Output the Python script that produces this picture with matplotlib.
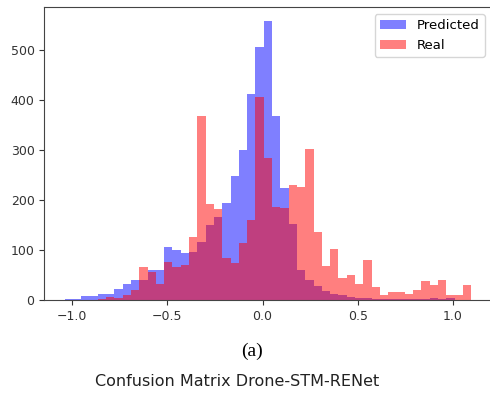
"""
Overlapping histograms of predicted vs real values (Drone-STM-RENet).
Writes out.png (490x394).
"""

import numpy as np
import matplotlib
matplotlib.use("Agg")
import matplotlib.pyplot as plt

# BINS  (49 equal bins, shared by both series)
BIN_LO = -1.04
BIN_HI = 1.096
N_BINS = 49

# COUNTS PER BIN
predicted_counts = [
    3, 3, 9, 9, 12, 12, 23, 32, 41, 41,
    60, 60, 106, 101, 95, 97, 116, 150, 167, 195,
    248, 300, 412, 506, 558, 369, 224, 152, 60, 40,
    29, 18, 13, 10, 7, 5, 5, 3, 2, 2,
    2, 2, 2, 2, 4, 2, 4, 1, 0,
]
real_counts = [
    0, 0, 0, 1, 3, 6, 5, 10, 20, 66,
    57, 33, 77, 67, 71, 127, 369, 192, 183, 85,
    74, 114, 160, 407, 285, 187, 185, 231, 227, 302,
    136, 69, 102, 45, 50, 33, 80, 26, 10, 17,
    17, 12, 20, 39, 31, 41, 10, 10, 31,
]
labels = ["Predicted", "Real"]

FIG_W, FIG_H, DPI = 4.9, 3.94, 100


def main():
    edges = np.linspace(BIN_LO, BIN_HI, N_BINS + 1)
    centers = (edges[:-1] + edges[1:]) / 2

    fig = plt.figure(figsize=(FIG_W, FIG_H), dpi=DPI)
    # axes runs a little past the right edge (reference is cropped there)
    ax = fig.add_axes([44.3 / 490, 1 - 300 / 394, (491.5 - 44.3) / 490, (300 - 7.3) / 394])

    ax.hist(centers, bins=edges, weights=predicted_counts, color="blue", alpha=0.5, label=labels[0])
    ax.hist(centers, bins=edges, weights=real_counts, color="red", alpha=0.5, label=labels[1])

    ax.set_xticks([-1.0, -0.5, 0.0, 0.5, 1.0])
    ax.set_yticks([0, 100, 200, 300, 400, 500])
    ax.tick_params(labelsize=9, colors="#333333")
    for sp in ax.spines.values():
        sp.set_color("#444444")

    ax.legend(loc="upper right", fontsize=9.5)

    fig.text(251.7 / 490, 1 - 351.7 / 394, "(a)", family="Liberation Serif",
             fontsize=14, ha="center", va="center")
    fig.text(237.3 / 490, 1 - 381.7 / 394, "Confusion Matrix Drone-STM-RENet",
             fontsize=11.5, ha="center", va="center", color="#222222")

    fig.savefig("out.png", dpi=DPI)
    plt.close(fig)


if __name__ == "__main__":
    main()
